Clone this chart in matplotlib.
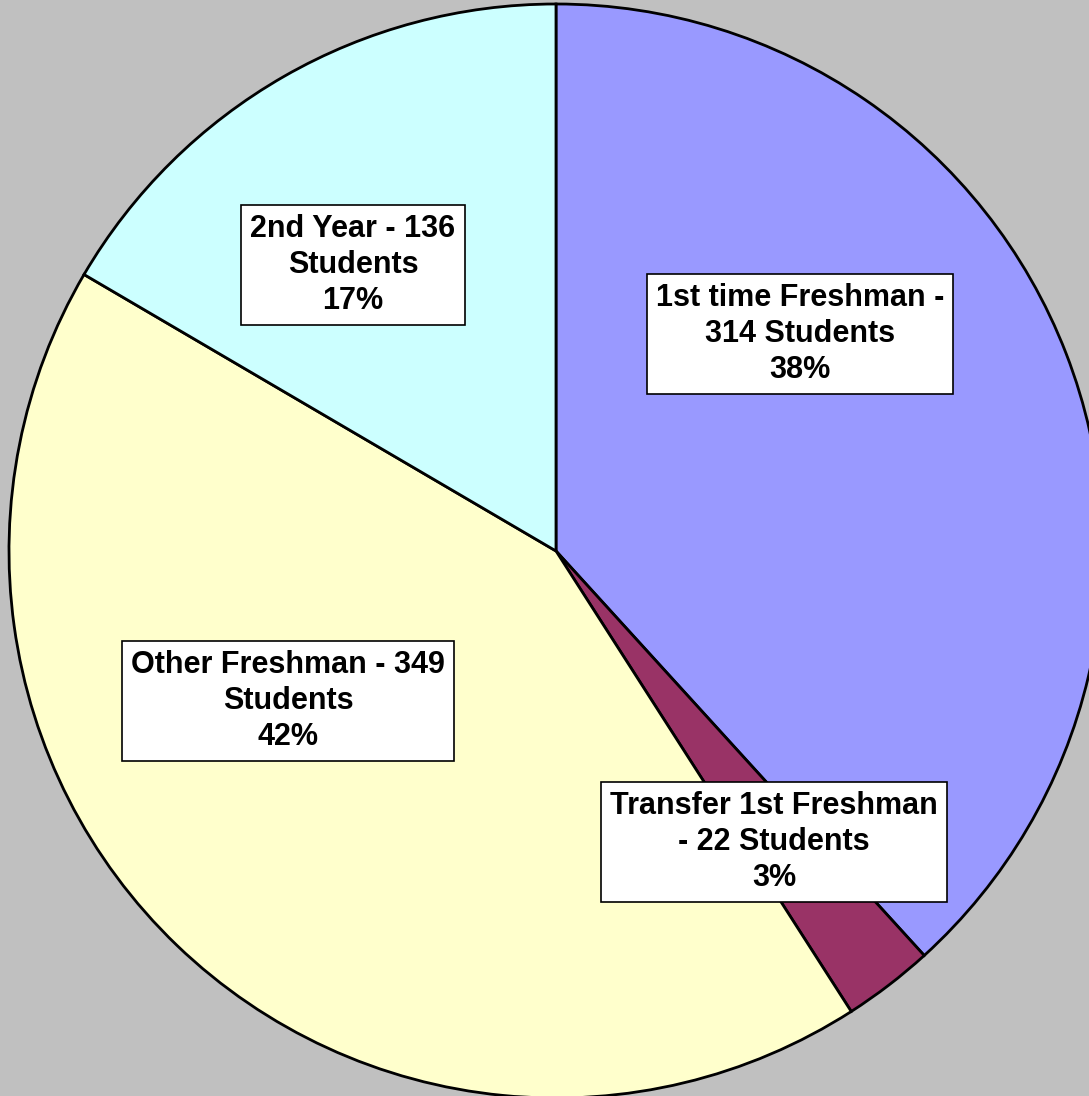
import matplotlib.pyplot as plt

# data
categories = ["1st time Freshman", "Transfer 1st Freshman", "Other Freshman", "2nd Year"]
students = [314, 22, 349, 136]
percents = ["38%", "3%", "42%", "17%"]
colors = ["#9999FF", "#993366", "#FFFFCC", "#CCFFFF"]

W, H = 1089, 1096
fig = plt.figure(figsize=(W / 100, H / 100), dpi=100, facecolor="#C0C0C0")
ax = fig.add_axes([0, 0, 1, 1])

# pie center / radius in pixel coords (y axis pointing down -> counterclock=True draws clockwise)
cx, cy, r = 556, 551, 547
ax.pie(students, colors=colors, startangle=-90, counterclock=True,
       center=(cx, cy), radius=r, frame=True,
       wedgeprops=dict(edgecolor="black", linewidth=2))
ax.set_xlim(0, W)
ax.set_ylim(H, 0)
ax.set_aspect("equal")
ax.axis("off")

labels = [
    "1st time Freshman -\n314 Students\n38%",
    "Transfer 1st Freshman\n- 22 Students\n3%",
    "Other Freshman - 349\nStudents\n42%",
    "2nd Year - 136\nStudents\n17%",
]
# label box centers (pixels)
label_pos = [(800, 334), (774, 842), (288, 701), (353, 265)]

for txt, (x, y) in zip(labels, label_pos):
    ax.text(x, y, txt, ha="center", va="center", fontsize=22, fontweight="bold",
            family="Liberation Sans", linespacing=1.25,
            bbox=dict(boxstyle="square,pad=0.3", facecolor="white",
                      edgecolor="black", linewidth=1.2))

fig.savefig("out.png", dpi=100, facecolor=fig.get_facecolor())
